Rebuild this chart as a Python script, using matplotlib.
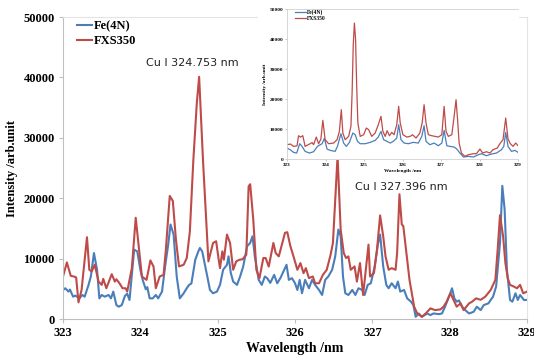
import matplotlib
matplotlib.use('Agg')
import matplotlib.pyplot as plt

# main spectrum: Fe(4N)
fe_wl = [323.00, 323.03, 323.07, 323.09, 323.13, 323.16, 323.21, 323.25, 323.28, 323.33,
         323.36, 323.40, 323.44, 323.47, 323.50, 323.54, 323.59, 323.62, 323.65, 323.69,
         323.72, 323.76, 323.80, 323.83, 323.86, 323.88, 323.92, 323.96, 324.00, 324.03,
         324.07, 324.09, 324.12, 324.16, 324.20, 324.23, 324.28, 324.32, 324.36, 324.39,
         324.43, 324.47, 324.51, 324.56, 324.60, 324.63, 324.66, 324.71, 324.75, 324.77,
         324.80, 324.84, 324.87, 324.90, 324.94, 324.99, 325.03, 325.07, 325.12, 325.14,
         325.17, 325.20, 325.25, 325.29, 325.33, 325.38, 325.42, 325.45, 325.48, 325.53,
         325.57, 325.61, 325.64, 325.68, 325.73, 325.77, 325.81, 325.86, 325.89, 325.92,
         325.96, 326.00, 326.03, 326.06, 326.09, 326.13, 326.18, 326.22, 326.26, 326.31,
         326.35, 326.39, 326.43, 326.48, 326.52, 326.56, 326.59, 326.62, 326.65, 326.69,
         326.74, 326.78, 326.82, 326.87, 326.90, 326.94, 326.98, 327.03, 327.07, 327.10,
         327.14, 327.18, 327.21, 327.25, 327.30, 327.33, 327.36, 327.41, 327.45, 327.50,
         327.53, 327.56, 327.60, 327.64, 327.71, 327.75, 327.79, 327.86, 327.90, 327.94,
         327.99, 328.03, 328.06, 328.09, 328.12, 328.16, 328.20, 328.25, 328.31, 328.35,
         328.40, 328.44, 328.50, 328.56, 328.60, 328.65, 328.68, 328.71, 328.74, 328.78,
         328.81, 328.85, 328.88, 328.91, 328.96, 329.00]
fe_int = [4830, 5110, 4560, 4900, 3720, 3900, 3440, 4000, 3720, 5670,
          7060, 10940, 8170, 3440, 4000, 3720, 4000, 3440, 4560, 2330,
          2060, 2330, 3830, 4200, 3170, 5940, 11500, 11220, 8170, 6500,
          4940, 5300, 3440, 3440, 4000, 3440, 4560, 8720, 12330, 15670,
          14000, 7060, 3440, 4280, 5110, 5670, 5900, 9830, 11220, 11780,
          11200, 8720, 6780, 4830, 4280, 4560, 5670, 8170, 9000, 10390,
          7610, 6220, 5670, 7060, 8720, 12060, 12610, 13720, 10390, 6500,
          5670, 7060, 6780, 6000, 7330, 5940, 6780, 8170, 9000, 6500,
          6780, 5940, 4830, 6500, 4280, 6500, 5110, 6500, 5670, 4830,
          4000, 6500, 7060, 8170, 10390, 14830, 13720, 7060, 4280, 4000,
          4830, 4000, 5110, 4830, 4000, 5670, 5940, 8720, 12330, 14000,
          8720, 5670, 5110, 5940, 5110, 6220, 4560, 4830, 3440, 2890,
          2330, 390, 940, 390, 940, 670, 940, 830, 940, 2060,
          3720, 5110, 3440, 2890, 3100, 2060, 1500, 940, 1220, 2060,
          1500, 2330, 2610, 3720, 5390, 12610, 22060, 18170, 8170, 3170,
          2890, 4280, 3170, 4000, 3170, 3170]

# main spectrum: FXS350
fxs_wl = [323.00, 323.05, 323.10, 323.14, 323.17, 323.20, 323.24, 323.27, 323.31, 323.34,
          323.37, 323.41, 323.46, 323.50, 323.52, 323.56, 323.63, 323.67, 323.69, 323.73,
          323.77, 323.81, 323.83, 323.89, 323.94, 323.99, 324.02, 324.08, 324.13, 324.17,
          324.20, 324.25, 324.30, 324.33, 324.38, 324.42, 324.46, 324.50, 324.56, 324.60,
          324.64, 324.685, 324.73, 324.76, 324.81, 324.88, 324.94, 324.98, 325.01, 325.03,
          325.06, 325.08, 325.12, 325.16, 325.20, 325.24, 325.28, 325.32, 325.37, 325.40,
          325.42, 325.46, 325.50, 325.54, 325.59, 325.62, 325.66, 325.72, 325.75, 325.79,
          325.87, 325.90, 325.94, 325.98, 326.03, 326.07, 326.11, 326.14, 326.18, 326.23,
          326.26, 326.31, 326.36, 326.41, 326.46, 326.49, 326.55, 326.59, 326.63, 326.66,
          326.69, 326.72, 326.77, 326.80, 326.84, 326.88, 326.92, 326.95, 326.97, 327.02,
          327.06, 327.10, 327.14, 327.17, 327.21, 327.25, 327.30, 327.32, 327.35, 327.38,
          327.40, 327.44, 327.48, 327.51, 327.54, 327.58, 327.64, 327.69, 327.75, 327.81,
          327.88, 327.92, 327.96, 328.01, 328.04, 328.09, 328.14, 328.18, 328.25, 328.29,
          328.34, 328.40, 328.46, 328.53, 328.59, 328.62, 328.65, 328.69, 328.72, 328.75,
          328.78, 328.83, 328.87, 328.91, 328.95, 329.00]
fxs_int = [7060, 9390, 7170, 7060, 6900, 2780, 4830, 8500, 13560, 8170,
           7890, 9000, 6220, 5670, 6670, 5110, 7440, 6220, 6600, 5940,
           5110, 5110, 4560, 8440, 16780, 10670, 7060, 6500, 9720, 8720,
           5110, 7060, 7330, 11500, 20390, 19560, 13170, 8720, 9000, 10110,
           14500, 26300, 35760, 40110, 26300, 9560, 12610, 12890, 10110, 8440,
           11220, 9830, 14000, 12600, 8170, 9560, 9830, 9900, 10670, 22000,
           22330, 16500, 8170, 6780, 10110, 10110, 8700, 12610, 10940, 10390,
           14280, 14390, 12060, 10390, 8170, 9280, 7610, 8440, 6780, 7060,
           5940, 5940, 7330, 8170, 10670, 12610, 27000, 14830, 10940, 10110,
           10390, 8170, 8720, 6220, 9280, 4000, 8720, 12330, 7060, 7610,
           11500, 17170, 13720, 10390, 8170, 8440, 8170, 10940, 20670, 15670,
           15400, 10940, 6500, 4280, 2060, 940, 390, 940, 1780, 1500,
           1610, 2060, 2890, 4280, 3440, 2060, 2610, 1500, 2610, 2890,
           3440, 3200, 3720, 4830, 6500, 11500, 17200, 13720, 9280, 6780,
           5670, 5390, 5110, 5670, 4280, 4560]

# inset spectrum (second measurement)
in_fe_wl = [323.00, 323.08, 323.17, 323.25, 323.33, 323.39, 323.47, 323.58, 323.69, 323.79,
            323.91, 323.97, 324.04, 324.12, 324.25, 324.31, 324.40, 324.47, 324.54, 324.62,
            324.71, 324.77, 324.83, 324.90, 325.03, 325.16, 325.29, 325.37, 325.44, 325.51,
            325.60, 325.68, 325.76, 325.85, 325.90, 325.96, 326.04, 326.15, 326.28, 326.41,
            326.50, 326.56, 326.61, 326.71, 326.82, 326.93, 327.02, 327.08, 327.15, 327.23,
            327.34, 327.41, 327.49, 327.58, 327.71, 327.84, 327.97, 328.05, 328.18, 328.31,
            328.44, 328.57, 328.63, 328.68, 328.74, 328.83, 328.92, 329.00]
in_fe_int = [3670, 3110, 2220, 2000, 5110, 4220, 2560, 2000, 2440, 4220,
             5110, 6890, 3330, 2890, 2560, 4220, 8440, 5330, 4220, 5560,
             8670, 8110, 5890, 5110, 5110, 5560, 6220, 7330, 9220, 6440,
             5890, 5330, 5890, 7000, 11440, 6440, 5330, 5110, 5560, 5330,
             7560, 11110, 5890, 4780, 5330, 4440, 5330, 9560, 4440, 4220,
             4000, 3330, 2000, 670, 890, 670, 1440, 1780, 1110, 1670,
             2000, 3110, 4220, 8890, 4220, 2560, 2890, 2220]
in_fxs_wl = [323.00, 323.09, 323.17, 323.26, 323.30, 323.35, 323.41, 323.47, 323.60, 323.65,
             323.69, 323.76, 323.82, 323.88, 323.93, 323.99, 324.08, 324.21, 324.30, 324.36,
             324.41, 324.45, 324.51, 324.60, 324.66, 324.69, 324.72, 324.75, 324.78, 324.81,
             324.84, 324.90, 324.99, 325.06, 325.12, 325.20, 325.29, 325.37, 325.44, 325.49,
             325.55, 325.60, 325.66, 325.72, 325.78, 325.85, 325.90, 325.94, 326.01, 326.11,
             326.20, 326.26, 326.35, 326.45, 326.51, 326.56, 326.61, 326.67, 326.76, 326.84,
             326.93, 327.02, 327.08, 327.13, 327.19, 327.28, 327.34, 327.39, 327.43, 327.47,
             327.53, 327.62, 327.71, 327.84, 327.92, 328.01, 328.08, 328.18, 328.27, 328.35,
             328.46, 328.54, 328.61, 328.68, 328.74, 328.80, 328.87, 328.94, 329.00]
in_fxs_int = [4780, 5000, 4220, 4400, 7780, 7300, 7780, 4220, 5110, 5500,
              4780, 7330, 5110, 6670, 12890, 6440, 5110, 5330, 6440, 9220,
              16440, 8670, 6440, 7560, 10890, 22000, 38000, 45330, 40000, 24000,
              12000, 7560, 8110, 10330, 9780, 7560, 8670, 11440, 14220, 9220,
              7560, 9440, 7780, 8890, 8110, 11440, 17560, 12000, 8110, 7330,
              7560, 8110, 7000, 8670, 12000, 18110, 12000, 8110, 7780, 7560,
              7330, 8110, 17560, 9220, 7560, 8110, 14220, 19780, 13110, 5330,
              2000, 890, 1440, 1780, 1780, 3330, 2000, 2440, 2000, 3110,
              3670, 5330, 6440, 13670, 6670, 5110, 4220, 5330, 4440]

x_ticks = [323, 324, 325, 326, 327, 328, 329]
y_ticks = [0, 10000, 20000, 30000, 40000, 50000]

blue = '#4a7ebb'
red = '#be4b48'
frame = '#bfbfbf'
serif = 'Liberation Serif'

fig = plt.figure(figsize=(5.34, 3.55), dpi=100)

# main chart
ax = fig.add_axes([0.118, 0.101, 0.869, 0.851])
ax.plot(fe_wl, fe_int, color=blue, lw=1.5, label='Fe(4N)')
ax.plot(fxs_wl, fxs_int, color=red, lw=1.5, label='FXS350')
ax.set_xlim(323, 329)
ax.set_ylim(0, 50000)
ax.set_xticks(x_ticks)
ax.set_yticks(y_ticks)
for s in ax.spines.values():
    s.set_color(frame)
    s.set_linewidth(0.8)
ax.spines['top'].set_color('#e4e4e4')
ax.spines['right'].set_color('#e4e4e4')
ax.tick_params(direction='out', length=3, color=frame, pad=3)
for lab in ax.get_xticklabels() + ax.get_yticklabels():
    lab.set_fontfamily(serif)
    lab.set_fontweight('bold')
    lab.set_fontsize(9)
ax.set_xlabel('Wavelength /nm', fontfamily=serif, fontweight='bold', fontsize=10, labelpad=2)
ax.set_ylabel('Intensity /arb.unit', fontfamily=serif, fontweight='bold', fontsize=9, labelpad=4)
ax.legend(loc='upper left', bbox_to_anchor=(0.015, 1.015), frameon=False, handlelength=1.2,
          handletextpad=0.1, labelspacing=0.25, borderaxespad=0.2,
          prop={'family': serif, 'weight': 'bold', 'size': 9})

ax.text(324.67, 42400, 'Cu I 324.753 nm', family='DejaVu Sans', fontsize=8,
        ha='center', va='center', color='#222222')
ax.text(327.37, 21850, 'Cu I 327.396 nm', family='DejaVu Sans', fontsize=8,
        ha='center', va='center', color='#222222')

# white box behind the inset
bg = fig.add_axes([0.483, 0.549, 0.489, 0.451])
bg.set_xticks([])
bg.set_yticks([])
for s in bg.spines.values():
    s.set_visible(False)

# inset chart
ins = fig.add_axes([0.5375, 0.552, 0.4326, 0.4225])
ins.plot(in_fe_wl, in_fe_int, color=blue, lw=0.9, label='Fe(4N)')
ins.plot(in_fxs_wl, in_fxs_int, color=red, lw=0.9, label='FXS350')
ins.set_xlim(323, 329)
ins.set_ylim(0, 50000)
ins.set_xticks(x_ticks)
ins.set_yticks(y_ticks)
for s in ins.spines.values():
    s.set_color('#d0d0d0')
    s.set_linewidth(0.6)
ins.spines['right'].set_visible(False)
ins.tick_params(direction='out', length=1.5, width=0.5, color='#b0b0b0', pad=1)
for lab in ins.get_xticklabels() + ins.get_yticklabels():
    lab.set_fontfamily(serif)
    lab.set_fontweight('bold')
    lab.set_fontsize(3.8)
ins.set_xlabel('Wavelength /nm', fontfamily=serif, fontweight='bold', fontsize=3.8, labelpad=1.5)
ins.set_ylabel('Intensity /arb.unit', fontfamily=serif, fontweight='bold', fontsize=3.8, labelpad=2)
ins.legend(loc='upper left', bbox_to_anchor=(0.02, 1.02), frameon=False, handlelength=2,
           handletextpad=0.2, labelspacing=0.2, borderaxespad=0.2,
           prop={'family': serif, 'weight': 'bold', 'size': 4})

fig.savefig('out.png', dpi=100)
